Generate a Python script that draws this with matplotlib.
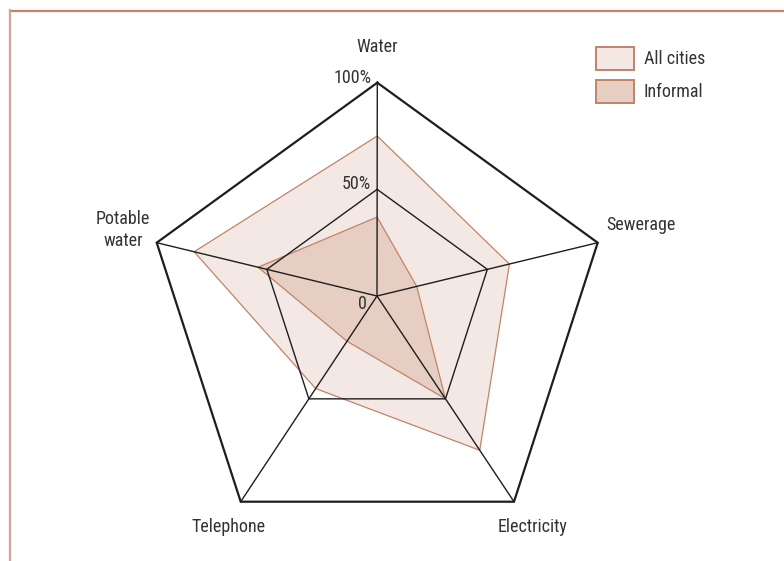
import matplotlib
matplotlib.use("Agg")
import matplotlib.pyplot as plt
import numpy as np
from matplotlib import font_manager

# ---- data ----
categories = ["Water", "Sewerage", "Electricity", "Telephone", "Potable\nwater"]
all_cities = [0.75, 0.60, 0.75, 0.45, 0.83]
informal = [0.37, 0.18, 0.50, 0.22, 0.54]
series_labels = ["All cities", "Informal"]
ring_labels = ["0", "50%", "100%"]
ring_values = [0.0, 0.5, 1.0]

# ---- layout (pixel geometry of the spokes) ----
W, H = 784, 561
center = np.array([377.0, 296.0])
spoke_ends = np.array([
    [377.3, 82.7],    # Water
    [597.7, 242.7],   # Sewerage
    [514.0, 501.7],   # Electricity
    [240.7, 501.7],   # Telephone
    [156.7, 242.7],   # Potable water
])
vecs = spoke_ends - center

names = {f.name for f in font_manager.fontManager.ttflist}
fam = next((n for n in ["Roboto Condensed", "Archivo Narrow", "PT Sans Narrow"] if n in names), "DejaVu Sans")
plt.rcParams["font.family"] = [fam, "DejaVu Sans"]

fig = plt.figure(figsize=(W / 100, H / 100), dpi=100)
ax = fig.add_axes([0, 0, 1, 1])
ax.set_xlim(0, W)
ax.set_ylim(H, 0)
ax.axis("off")

def pts(values):
    v = np.asarray(values)[:, None]
    return center + v * vecs

fill_all = "#f3e8e4"
fill_inf = "#e6cec3"
edge = "#c08468"

p_all = pts(all_cities)
p_inf = pts(informal)
ax.fill(p_all[:, 0], p_all[:, 1], facecolor=fill_all, edgecolor=edge, lw=0.9, zorder=1)
ax.fill(p_inf[:, 0], p_inf[:, 1], facecolor=fill_inf, edgecolor=edge, lw=0.9, zorder=2)

# grid
line_c = "#1e1e1e"
for v, lw in [(0.5, 1.0), (1.0, 1.6)]:
    g = pts([v] * 5)
    g = np.vstack([g, g[:1]])
    ax.plot(g[:, 0], g[:, 1], color=line_c, lw=lw, zorder=3, solid_joinstyle="miter")
for e in spoke_ends:
    ax.plot([center[0], e[0]], [center[1], e[1]], color=line_c, lw=1.0, zorder=3)

txt_c = "#333333"
fs = 13
# ring labels along Water spoke
for lab, v in zip(ring_labels, ring_values):
    p = center + v * vecs[0]
    if v == 0:
        ax.text(362, 304, lab, ha="center", va="center", fontsize=fs, color=txt_c)
    else:
        ax.text(p[0] - 6, p[1] - 5, lab, ha="right", va="center", fontsize=fs, color=txt_c)

# category labels
label_pos = [(377, 47, "center"), (606, 225, "left"), (533, 527, "center"),
             (229, 527, "center"), (123, 230, "center")]
for lab, (x, y, ha) in zip(categories, label_pos):
    ax.text(x, y, lab, ha=ha, va="center", fontsize=fs, color=txt_c, linespacing=1.25)

# legend
for i, (lab, fc) in enumerate(zip(series_labels, [fill_all, fill_inf])):
    y0 = 47.3 + i * 32.7
    ax.add_patch(plt.Rectangle((596, y0), 38, 23, facecolor=fc, edgecolor=edge, lw=1.4, zorder=4))
    ax.text(644, y0 + 12, lab, ha="left", va="center", fontsize=fs, color=txt_c)

# frame
ax.plot([10, 784], [10.5, 10.5], color="#c8806a", lw=1.6, zorder=5)
ax.plot([10, 10], [10, 561], color="#d4a592", lw=1.6, zorder=5)

fig.savefig("out.png", dpi=100)
